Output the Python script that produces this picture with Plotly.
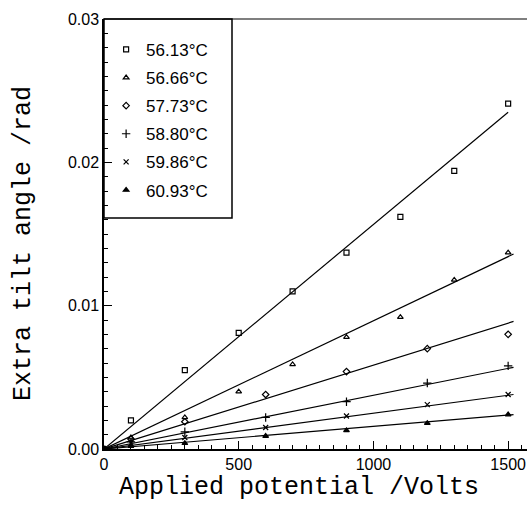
import plotly.graph_objects as go

# ---- data ----
labels = ["56.13°C", "56.66°C", "57.73°C", "58.80°C", "59.86°C", "60.93°C"]

v_a = [0, 100, 300, 500, 700, 900, 1100, 1300, 1500]
v_b = [0, 100, 300, 600, 900, 1200, 1500]

s1 = [0, 0.0020, 0.0055, 0.0081, 0.0110, 0.0137, 0.0162, 0.0194, 0.0241]
s2 = [0, 0.0008, 0.0022, 0.0040, 0.0059, 0.0078, 0.0092, 0.0118, 0.0137]
s3 = [0, 0.0007, 0.0019, 0.0038, 0.0054, 0.0070, 0.0080]
s4 = [0, 0.0005, 0.0012, 0.0022, 0.0033, 0.0046, 0.0058]
s5 = [0, 0.0004, 0.0008, 0.0015, 0.0023, 0.0031, 0.0038]
s6 = [0, 0.0002, 0.0004, 0.0009, 0.0013, 0.0018, 0.0024]

# fitted straight lines (start, end)
fit_x = [[0, 1500], [0, 1520], [0, 1520], [0, 1520], [0, 1520], [0, 1520]]
fit_y = [[0, 0.0235], [0, 0.0136], [0, 0.0089], [0, 0.0057], [0, 0.0038], [0, 0.0024]]

xs = [v_a, v_a, v_b, v_b, v_b, v_b]
ys = [s1, s2, s3, s4, s5, s6]
symbols = ["square-open", "triangle-up-open", "diamond-open", "cross-thin", "x-thin", "triangle-up"]
sizes = [5, 5, 5, 6, 5, 5]

fig = go.Figure()

for fx, fy in zip(fit_x, fit_y):
    fig.add_trace(go.Scatter(x=fx, y=fy, mode="lines", line=dict(color="black", width=1.2),
                             showlegend=False, hoverinfo="skip"))

for i in range(6):
    fig.add_trace(go.Scatter(x=xs[i][1:], y=ys[i][1:], mode="markers", name=labels[i],
                             legendgroup=str(i),
                             marker=dict(symbol=symbols[i], size=sizes[i], color="black",
                                         line=dict(color="black", width=1.2))))

fig.add_trace(go.Scatter(x=[0], y=[0], mode="markers", showlegend=False,
                         marker=dict(symbol="circle", size=7, color="black")))

tickfont = dict(family="Liberation Sans, Arial, sans-serif", size=16, color="black")
titlefont = dict(family="Liberation Mono, Courier New, monospace", size=25, color="black")

fig.update_layout(
    width=528, height=506,
    margin=dict(l=104, r=1, t=19, b=57),
    paper_bgcolor="white", plot_bgcolor="white",
    showlegend=True,
    legend=dict(x=0.005, y=0.97, xanchor="left", yanchor="top",
                bgcolor="rgba(0,0,0,0)", borderwidth=0,
                font=dict(family="Liberation Sans, Arial, sans-serif", size=17, color="black"),
                tracegroupgap=3, itemwidth=30),
    xaxis=dict(range=[0, 1570], showgrid=False, zeroline=False,
               showline=True, linecolor="black", linewidth=1.5,
               ticks="inside", ticklen=8, tickwidth=1.2, tickcolor="black",
               tickvals=[0, 500, 1000, 1500], ticktext=["0", "500", "1000", "1500"],
               tickfont=tickfont,
               minor=dict(dtick=50, ticks="inside", ticklen=4, tickwidth=1, tickcolor="black")),
    yaxis=dict(range=[0, 0.03], showgrid=False, zeroline=False,
               showline=True, linecolor="black", linewidth=1.5,
               ticks="inside", ticklen=8, tickwidth=1.2, tickcolor="black",
               tickvals=[0, 0.01, 0.02, 0.03], tickformat=".2f",
               tickfont=tickfont,
               minor=dict(dtick=0.001, ticks="inside", ticklen=4, tickwidth=1, tickcolor="black")),
    annotations=[
        dict(text="Applied potential /Volts", xref="paper", yref="paper",
             x=(299 - 104) / 423, y=-(487 - 449) / 430, xanchor="center", yanchor="middle",
             showarrow=False, font=titlefont),
        dict(text="Extra tilt angle /rad", xref="paper", yref="paper",
             x=-(104 - 23) / 423, y=(449 - 244) / 430, xanchor="center", yanchor="middle",
             textangle=-90, showarrow=False, font=titlefont),
    ],
    shapes=[
        dict(type="line", xref="paper", yref="paper", x0=0, x1=1, y0=1, y1=1,
             line=dict(color="black", width=1.2)),
        dict(type="rect", xref="paper", yref="paper", x0=0, x1=(232 - 104) / 423, y0=(449 - 218) / 430, y1=1,
             line=dict(color="black", width=1.5)),
    ],
)

fig.write_html("out.html")
